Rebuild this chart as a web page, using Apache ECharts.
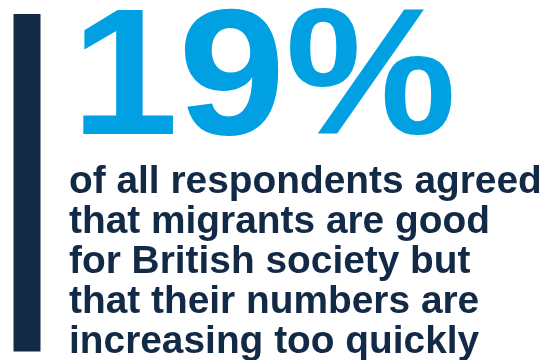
<!DOCTYPE html>
<html>
<head>
<meta charset="utf-8">
<script src="https://cdn.jsdelivr.net/npm/echarts@6/dist/echarts.min.js"></script>
<style>
  html, body { margin: 0; padding: 0; background: #ffffff; }
  #chart { width: 555px; height: 360px; }
</style>
</head>
<body>
<div id="chart"></div>
<script>
// Headline figure and the statement it belongs to
const sharePercent = 19;
const captionLines = [
  'of all respondents agreed',
  'that migrants are good',
  'for British society but',
  'that their numbers are',
  'increasing too quickly'
];

const NAVY = '#132a46';
const BLUE = '#00a0e3';
const FONT_FAMILY = '"Liberation Sans", Arial, sans-serif';
const BIG_FONT = 'bold 180px ' + FONT_FAMILY;
const CAPTION_FONT = 'bold 39px ' + FONT_FAMILY;

// Ink extents of a string, used to stretch text to its box
const measureCtx = document.createElement('canvas').getContext('2d');
function inkBox(text, font) {
  measureCtx.font = font;
  const m = measureCtx.measureText(text);
  return { left: m.actualBoundingBoxLeft, right: m.actualBoundingBoxRight };
}

// Big percentage: ink spans x 83..452
const bigText = sharePercent + '%';
const bigInk = inkBox(bigText, BIG_FONT);
const bigScale = (452 - 83) / (bigInk.right + bigInk.left);
const bigX = 83 + bigInk.left * bigScale;

// Caption: first line's ink spans x 70..540, same stretch for every line
const capInk = inkBox(captionLines[0], CAPTION_FONT);
const capScale = (540 - 70) / (capInk.right + capInk.left);
const capX = 70 + capInk.left * capScale;

const chart = echarts.init(document.getElementById('chart'), null, { renderer: 'canvas' });

const captionElements = captionLines.map((line, i) => ({
  type: 'text',
  x: capX,
  y: 162.5 + i * 40,
  scaleX: capScale,
  style: {
    text: line,
    fill: NAVY,
    font: CAPTION_FONT,
    lineHeight: 40,
    align: 'left',
    verticalAlign: 'top'
  }
}));

chart.setOption({
  backgroundColor: '#ffffff',
  animation: false,
  graphic: [
    {
      type: 'rect',
      shape: { x: 13.5, y: 14, width: 27, height: 337.5 },
      style: { fill: NAVY }
    },
    {
      type: 'text',
      x: bigX,
      y: -6,
      scaleX: bigScale,
      style: {
        text: bigText,
        fill: BLUE,
        font: BIG_FONT,
        lineHeight: 180,
        align: 'left',
        verticalAlign: 'top'
      }
    },
    ...captionElements
  ]
});
</script>
</body>
</html>
